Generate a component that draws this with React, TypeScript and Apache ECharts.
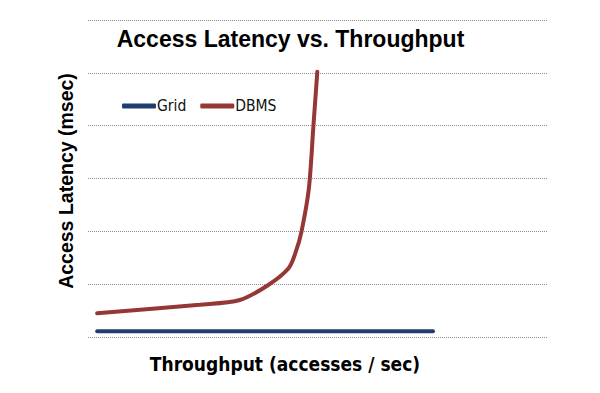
import React, { useEffect, useRef } from "react";
import * as echarts from "echarts";

const titleText = "Access Latency vs. Throughput";
const xTitle = "Throughput (accesses / sec)";
const yTitle = "Access Latency (msec)";
const gridX: number[] = [2, 75];
const gridY: number[] = [0.11, 0.11];
const dbmsX: number[] = [2, 24.3, 33.0, 39.2, 43.6, 45.2, 46.4, 48.0, 49.0, 49.85];
const dbmsY: number[] = [0.45, 0.61, 0.7, 0.985, 1.3, 1.62, 1.99, 2.8, 3.99, 5.02];
const yTicks: number[] = [0, 1, 2, 3, 4, 5, 6];

export default function App() {
  const ref = useRef<HTMLDivElement>(null);
  useEffect(() => {
    const chart = echarts.init(ref.current!, undefined, { renderer: "svg" });
    chart.setOption({
      animation: false,
      backgroundColor: "#ffffff",
      graphic: [
        {
          type: "text",
          x: 290.5,
          y: 39,
          style: {
            text: titleText,
            fontFamily: "Liberation Sans",
            fontWeight: "bold",
            fontSize: 23,
            fill: "#000",
            textAlign: "center",
            textVerticalAlign: "middle",
          },
        },
        {
          type: "text",
          x: 285,
          y: 364,
          style: {
            text: xTitle,
            fontFamily: "DejaVu Sans Condensed, DejaVu Sans",
            fontWeight: "bold",
            fontSize: 19,
            fill: "#000",
            textAlign: "center",
            textVerticalAlign: "middle",
          },
        },
        {
          type: "text",
          x: 66,
          y: 181,
          rotation: Math.PI / 2,
          style: {
            text: yTitle,
            fontFamily: "Liberation Sans",
            fontWeight: "bold",
            fontSize: 19.5,
            fill: "#000",
            textAlign: "center",
            textVerticalAlign: "middle",
          },
        },
      ],
      legend: {
        left: 117,
        top: 93,
        icon: "roundRect",
        itemWidth: 34,
        itemHeight: 5,
        itemGap: 14,
        textStyle: {
          fontFamily: "DejaVu Sans Condensed, DejaVu Sans",
          fontSize: 15.5,
          color: "#111",
          padding: [0, 0, 0, -4],
        },
        data: ["Grid", "DBMS"],
      },
      grid: { left: 88, right: 52, top: 20, bottom: 56 },
      xAxis: {
        type: "value",
        min: 0,
        max: 100,
        axisLine: { show: false },
        axisTick: { show: false },
        axisLabel: { show: false },
        splitLine: { show: false },
      },
      yAxis: {
        type: "value",
        min: yTicks[0],
        max: yTicks[yTicks.length - 1],
        interval: 1,
        axisLine: { show: false },
        axisTick: { show: false },
        axisLabel: { show: false },
        splitLine: { show: true, lineStyle: { type: "dotted", color: "#8c8c8c", width: 1 } },
      },
      series: [
        {
          name: "Grid",
          type: "line",
          symbol: "none",
          lineStyle: { color: "#1f3d6e", width: 4, cap: "round" },
          itemStyle: { color: "#1f3d6e" },
          data: gridX.map((x, i) => [x, gridY[i]]),
        },
        {
          name: "DBMS",
          type: "line",
          symbol: "none",
          smooth: 0.3,
          lineStyle: { color: "#953735", width: 4, cap: "round" },
          itemStyle: { color: "#953735" },
          data: dbmsX.map((x, i) => [x, dbmsY[i]]),
        },
      ],
    });
    return () => chart.dispose();
  }, []);
  return <div ref={ref} style={{ width: 600, height: 393, position: "absolute", left: 0, top: 0 }} />;
}
